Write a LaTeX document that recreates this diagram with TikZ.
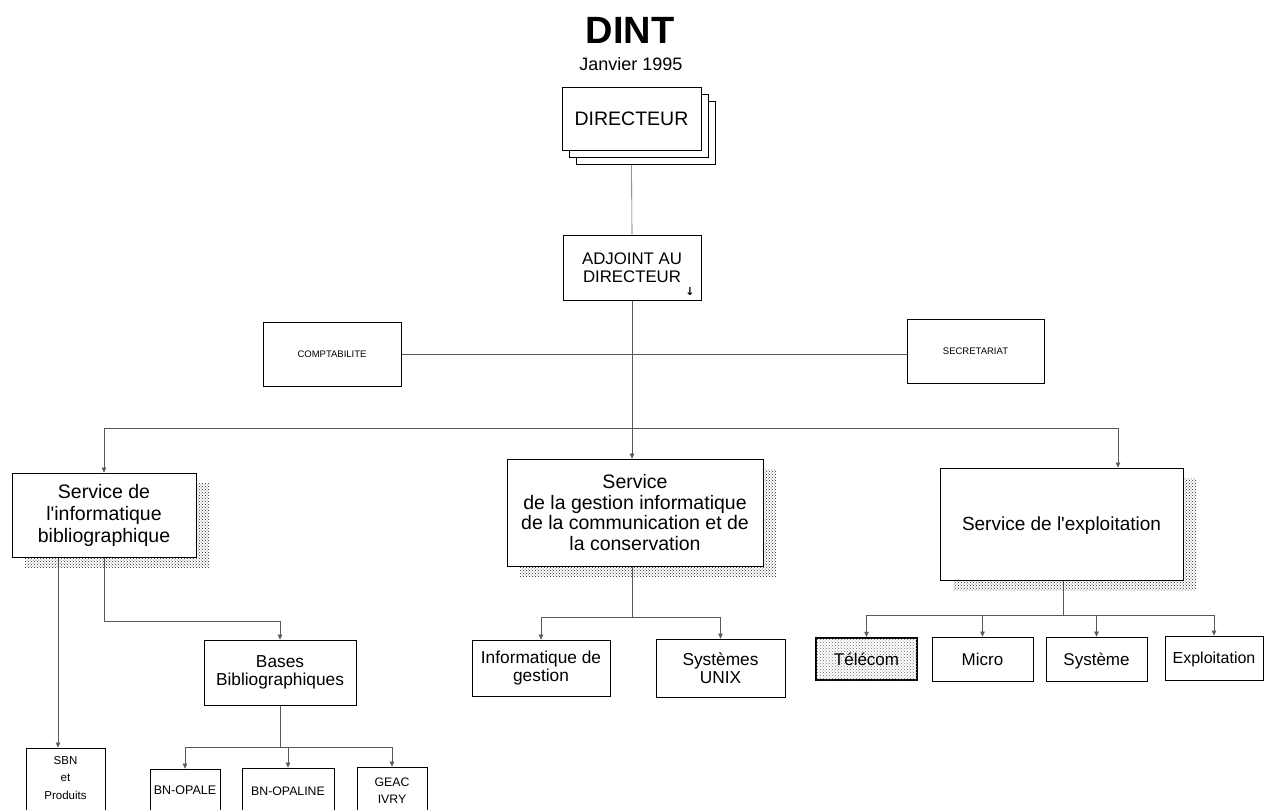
\documentclass[tikz,border=0pt]{standalone}
\usepackage{fontspec}
\setmainfont{Liberation Sans}
\newfontfamily\symfont{DejaVu Sans}
\usetikzlibrary{shadows,patterns,backgrounds,arrows.meta}

\newcommand{\ap}{\textquotesingle}

\tikzset{
  box/.style={draw=black, line width=0.8pt, fill=white, rectangle, inner sep=2pt, align=center},
  fs/.style 2 args={font=\fontsize{#1}{#2}\selectfont},
  % single-line labels are centred on their capital height
  oneline/.style={text height=#1, text depth=0pt},
  service/.style={box, general shadow={shadow xshift=13pt, shadow yshift=-10pt,
      pattern=crosshatch dots, pattern color=black!85}},
  link/.style={draw=black!65, line width=0.6pt},
  arr/.style={link, -{Triangle[length=5pt,width=4.5pt]}},
  stack/.style={box, double copy shadow={shadow xshift=7pt, shadow yshift=-7pt}},
  hot/.style={draw=black, line width=2.4pt, fill=white,
      postaction={pattern=crosshatch dots, pattern color=black!55}, rectangle, align=center},
}

\begin{document}
\begin{tikzpicture}[x=1pt, y=-1pt]
\useasboundingbox (0,0) rectangle (1265,809);
\clip (0,0) rectangle (1265,809);

% heading
\node[font=\bfseries\fontsize{38}{40}\selectfont] (title) at (630,30) {DINT};
\node[fs={18}{20}] (date) at (631,64) {Janvier 1995};

% direction
\node[stack, fs={19.5}{22}, oneline=14pt, minimum width=139pt, minimum height=63pt] (dir) at (631.5,118.5) {DIRECTEUR};
\node[box, fs={16.8}{17.5}, minimum width=138pt, minimum height=65pt] (adj) at (632,267.5) {ADJOINT AU\\DIRECTEUR};
\node[font=\symfont\bfseries\fontsize{11}{11}\selectfont, inner sep=0pt] (adjmark) at (690,292) {↓};
\node[box, fs={9.5}{11}, oneline=6.8pt, minimum width=138pt, minimum height=64pt] (compta) at (332,354) {COMPTABILITE};
\node[box, fs={9.5}{11}, oneline=6.8pt, minimum width=137pt, minimum height=64pt] (secr) at (975.5,351) {SECRETARIAT};

% services
\node[service, fs={19.5}{22}, minimum width=184pt, minimum height=84pt] (s1) at (104,515)
  {Service de\\l\ap informatique\\bibliographique};
\node[service, fs={19.5}{20.5}, minimum width=256pt, minimum height=107pt] (s2) at (635,512.5)
  {Service\\de la gestion informatique\\de la communication et de\\la conservation};
\node[service, fs={19}{21}, oneline=13.7pt, minimum width=243pt, minimum height=112pt] (s3) at (1061.5,524)
  {Service de l\ap exploitation};

% units of the bibliographic service
\node[box, fs={17.3}{18}, minimum width=152pt, minimum height=65pt] (bases) at (280,672.5) {Bases\\Bibliographiques};
\node[box, minimum width=79pt, minimum height=80pt] (sbn) at (65.5,788) {};
\node[fs={11.5}{17.5}, align=center] (sbntxt) at (65.5,778) {SBN\\et\\Produits};
\node[box, minimum width=70pt, minimum height=80pt] (opale) at (185,809) {};
\node[fs={12.5}{13}] (opaletxt) at (185,790) {BN-OPALE};
\node[box, minimum width=92pt, minimum height=80pt] (opaline) at (288,808) {};
\node[fs={12.3}{13}] (opalinetxt) at (288,791) {BN-OPALINE};
\node[box, minimum width=70pt, minimum height=80pt] (geac) at (392,807) {};
\node[fs={12.3}{17}, align=center] (geactxt) at (392,791) {GEAC\\IVRY};

% units of the management service
\node[box, fs={17.3}{18}, minimum width=138pt, minimum height=56pt] (ig) at (541,668) {Informatique de\\gestion};
\node[box, fs={17.3}{18}, minimum width=129pt, minimum height=58pt] (unix) at (720.5,668) {Systèmes\\UNIX};

% units of the operations service
\node[hot, fs={17}{19}, oneline=12.2pt, minimum width=101pt, minimum height=42pt] (tel) at (866.5,659) {Télécom};
\node[box, fs={17}{19}, oneline=12.2pt, minimum width=101pt, minimum height=44pt] (micro) at (982.5,659) {Micro};
\node[box, fs={17}{19}, oneline=12.2pt, minimum width=101pt, minimum height=44pt] (sys) at (1096.5,659) {Système};
\node[box, fs={16}{19}, oneline=11.5pt, minimum width=98pt, minimum height=44pt] (expl) at (1214,658) {Exploitation};

% junction points
\coordinate (br) at (632,428);
\coordinate (r3) at (1118,428);
\coordinate (c58) at (58,0);
\coordinate (c104) at (104,621);
\coordinate (bb) at (280,747);
\coordinate (mid) at (632,617);
\coordinate (ex) at (1063,615);

\begin{pgfonlayer}{background}
  \draw[link] (dir.south) -- (adj.north);
  \draw[link] (compta.east) -- (compta.east -| secr.west);
  \draw[arr] (adj.south) -- (adj.south |- s2.north);
  \draw[arr] (br) -| (s1.north);
  \draw[arr] (br) -- (r3) -- (r3 |- s3.north);
  % bibliographic branch
  \draw[arr] (s1.south -| c58) -- (sbn.north -| c58);
  \draw[arr] (s1.south -| c104) -- (c104) -| (bases.north);
  \draw[link] (bases.south) -- (bb);
  \draw[arr] (bb) -| (opale.north);
  \draw[arr] (bb) -| (opaline.north);
  \draw[arr] (bb) -| (geac.north);
  % management branch
  \draw[link] (s2.south -| mid) -- (mid);
  \draw[arr] (mid) -| (ig.north);
  \draw[arr] (mid) -| (unix.north);
  % operations branch
  \draw[link] (s3.south -| ex) -- (ex);
  \draw[arr] (ex) -| (tel.north);
  \draw[arr] (ex) -| (micro.north);
  \draw[arr] (ex) -| (sys.north);
  \draw[arr] (ex) -| (expl.north);
\end{pgfonlayer}
\end{tikzpicture}
\end{document}
